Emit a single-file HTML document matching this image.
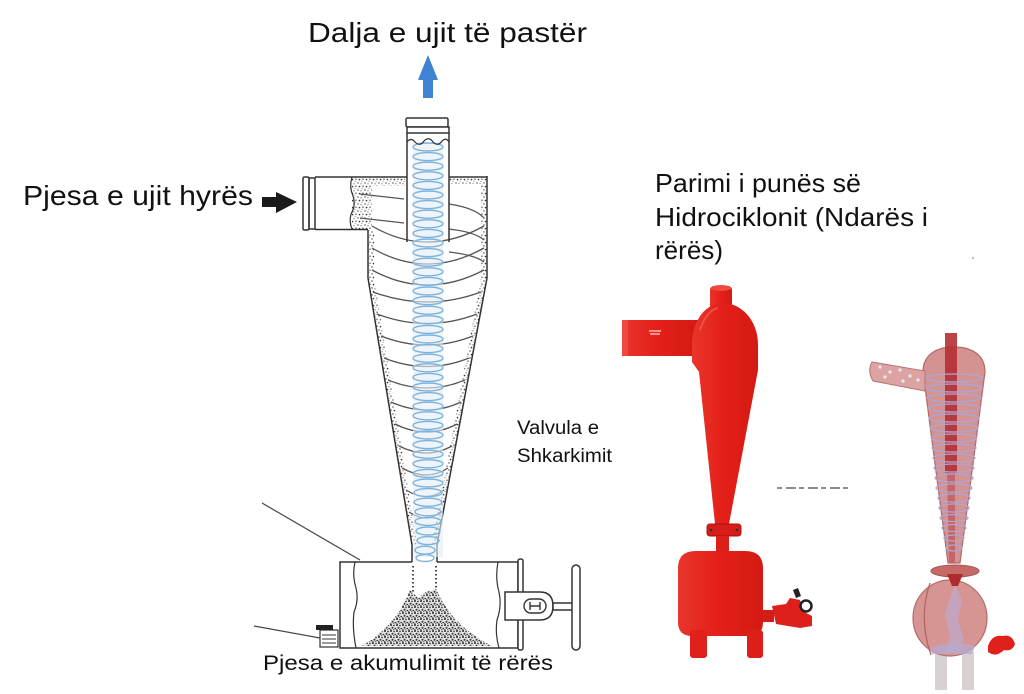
<!DOCTYPE html>
<html><head><meta charset="utf-8"><style>
html,body{margin:0;padding:0;background:#fff;}
svg{display:block;}
text{font-family:"Liberation Sans",Arial,sans-serif;fill:#111;}
</style></head><body>
<svg width="1024" height="694" viewBox="0 0 1024 694" xmlns="http://www.w3.org/2000/svg">
<defs>
<pattern id="dots" width="7" height="7" patternUnits="userSpaceOnUse">
<circle cx="1" cy="1" r="0.7" fill="#444"/><circle cx="4" cy="1.8" r="0.6" fill="#555"/>
<circle cx="6" cy="4.2" r="0.7" fill="#444"/><circle cx="2.5" cy="4.6" r="0.8" fill="#333"/>
<circle cx="5" cy="6.3" r="0.5" fill="#555"/>
</pattern>
<pattern id="sand" width="6" height="6" patternUnits="userSpaceOnUse">
<rect width="6" height="6" fill="#e6e6e6"/>
<circle cx="1" cy="1" r="1" fill="#222"/><circle cx="4" cy="1.5" r="0.9" fill="#444"/>
<circle cx="2.5" cy="3.8" r="1" fill="#333"/><circle cx="5.2" cy="4.5" r="0.8" fill="#222"/>
<circle cx="0.8" cy="5.4" r="0.7" fill="#555"/><circle cx="3.6" cy="5.8" r="0.6" fill="#333"/>
</pattern>
<linearGradient id="red" x1="0" x2="1" y1="0" y2="0">
<stop offset="0" stop-color="#e9362c"/><stop offset="0.45" stop-color="#e42019"/><stop offset="1" stop-color="#d41a14"/>
</linearGradient>
</defs>

<!-- Texts -->
<text x="308" y="42" font-size="28" textLength="279" lengthAdjust="spacingAndGlyphs">Dalja e ujit të pastër</text>
<text x="23" y="205" font-size="28" textLength="230" lengthAdjust="spacingAndGlyphs">Pjesa e ujit hyrës</text>
<text x="655" y="192" font-size="26" textLength="206" lengthAdjust="spacingAndGlyphs">Parimi i punës së</text>
<text x="655" y="226" font-size="26" textLength="273" lengthAdjust="spacingAndGlyphs">Hidrociklonit (Ndarës i</text>
<text x="655" y="259" font-size="26" textLength="68" lengthAdjust="spacingAndGlyphs">rërës)</text>
<text x="517" y="434" font-size="19" textLength="82" lengthAdjust="spacingAndGlyphs">Valvula e</text>
<text x="517" y="462" font-size="19" textLength="95" lengthAdjust="spacingAndGlyphs">Shkarkimit</text>
<text x="263" y="670" font-size="21" textLength="290" lengthAdjust="spacingAndGlyphs">Pjesa e akumulimit të rërës</text>

<!-- Blue outlet arrow -->
<path d="M428 55 L438 80 L433 80 L433 98 L423 98 L423 80 L418 80 Z" fill="#3f83d2"/>
<!-- Black inlet arrow -->
<path d="M262 197 L276 197 L276 192 L297 202 L276 213 L276 207 L262 207 Z" fill="#1a1a1a"/>

<!-- Left technical drawing -->
<g fill="none" stroke="#333" stroke-width="1.5">
<path d="M368 230 L368 278 L412 545 L417 545 L374 278 L374 230 Z" fill="url(#dots)" stroke="none"/>
<path d="M487 177 L487 278 L437 545 L432 545 L481 278 L481 177 Z" fill="url(#dots)" stroke="none"/>
<path d="M352 178 L372 178 L372 229 L352 229 Z" fill="url(#dots)" stroke="none"/>
<path d="M372 178 L405 178 L405 186 L372 186 Z" fill="url(#dots)" stroke="none"/>
<path d="M450 178 L481 178 L481 184 L450 184 Z" fill="url(#dots)" stroke="none"/>

<path d="M368 230 L368 278 L412 545 L412 562"/>
<path d="M487 176 L487 278 L437 545 L437 562"/>
<path d="M315 177 L407 177 M449 177 L487 177"/>
<rect x="303" y="177" width="6" height="53" rx="1.5"/>
<rect x="309" y="178" width="6" height="51"/>
<path d="M315 229.5 L368 229.5"/>
<path d="M352 177 Q349 187 353 196 Q356 206 351 214 Q349 222 352 229" stroke-width="1.2"/>
<path d="M360 194 L404 199 M360 218 L404 223" stroke="#555" stroke-width="1.3"/>

<g stroke="#555" stroke-width="1.3">
<path d="M449 204 Q475 208 484 218"/>
<path d="M372 226 Q427 258 484 226"/>
<path d="M449 229 Q475 232 484 240"/>
<path d="M372 248 Q427 280 484 248"/>
<path d="M449 252 Q475 255 484 262"/>
<path d="M372 270 Q427 300 484 270"/>
<path d="M373 292 Q427 312 481 292"/>
<path d="M377 314 Q427 333 477 314"/>
<path d="M381 336 Q427 354 473 336"/>
<path d="M384 358 Q427 375 469 358"/>
<path d="M388 380 Q427 396 465 380"/>
<path d="M391 402 Q427 418 461 402"/>
<path d="M395 424 Q427 440 457 424"/>
<path d="M399 446 Q427 460 452 446"/>
<path d="M402 468 Q427 482 448 468"/>
<path d="M406 490 Q427 503 444 490"/>
<path d="M409 512 Q427 524 440 512"/>
</g>

<rect x="413" y="142" width="30" height="415" fill="#e3eef7" stroke="none" opacity="0.6"/>
<g stroke="#7eb2d8" stroke-width="1.4" fill="none">
<ellipse cx="428" cy="147" rx="15" ry="4"/><ellipse cx="428" cy="156.6" rx="15" ry="4"/>
<ellipse cx="428" cy="166.2" rx="15" ry="4"/><ellipse cx="428" cy="175.8" rx="15" ry="4"/>
<ellipse cx="428" cy="185.4" rx="15" ry="4"/><ellipse cx="428" cy="195" rx="15" ry="4"/>
<ellipse cx="428" cy="204.6" rx="15" ry="4"/><ellipse cx="428" cy="214.2" rx="15" ry="4"/>
<ellipse cx="428" cy="223.8" rx="15" ry="4"/><ellipse cx="428" cy="233.4" rx="15" ry="4"/>
<ellipse cx="428" cy="243" rx="15" ry="4"/><ellipse cx="428" cy="252.6" rx="15" ry="4"/>
<ellipse cx="428" cy="262.2" rx="15" ry="4"/><ellipse cx="428" cy="271.8" rx="15" ry="4"/>
<ellipse cx="428" cy="281.4" rx="15" ry="4"/><ellipse cx="428" cy="291" rx="15" ry="4"/>
<ellipse cx="428" cy="300.6" rx="15" ry="4"/><ellipse cx="428" cy="310.2" rx="15" ry="4"/>
<ellipse cx="428" cy="319.8" rx="15" ry="4"/><ellipse cx="428" cy="329.4" rx="15" ry="4"/>
<ellipse cx="428" cy="339" rx="15" ry="4"/><ellipse cx="428" cy="348.6" rx="15" ry="4"/>
<ellipse cx="428" cy="358.2" rx="15" ry="4"/><ellipse cx="428" cy="367.8" rx="15" ry="4"/>
<ellipse cx="428" cy="377.4" rx="15" ry="4"/><ellipse cx="428" cy="387" rx="15" ry="4"/>
<ellipse cx="428" cy="396.6" rx="15" ry="4"/><ellipse cx="428" cy="406.2" rx="15" ry="4"/>
<ellipse cx="428" cy="415.8" rx="15" ry="4"/><ellipse cx="428" cy="425.4" rx="15" ry="4"/>
<ellipse cx="428" cy="435" rx="15" ry="4"/><ellipse cx="428" cy="444.6" rx="15" ry="4"/>
<ellipse cx="428" cy="454.2" rx="15" ry="4"/><ellipse cx="428" cy="463.8" rx="15" ry="4"/>
<ellipse cx="428" cy="473.4" rx="15" ry="4"/><ellipse cx="428" cy="483" rx="15" ry="4"/>
<ellipse cx="428" cy="492.6" rx="14" ry="4"/><ellipse cx="428" cy="502.2" rx="14" ry="4"/>
<ellipse cx="428" cy="511.8" rx="13" ry="4"/><ellipse cx="428" cy="521.4" rx="13" ry="4"/>
<ellipse cx="428" cy="531" rx="12" ry="4"/><ellipse cx="428" cy="540.6" rx="11" ry="4"/>
<ellipse cx="425" cy="550.2" rx="10" ry="4"/><ellipse cx="425" cy="558" rx="9" ry="3.5"/>
</g>

<path d="M407 133 L407 242 M449 133 L449 242"/>
<rect x="406" y="118" width="42" height="9" rx="1.5" fill="#fff"/>
<rect x="407" y="127" width="42" height="6" fill="#fff"/>
<path d="M407 142 Q411 137 415 142 Q420 147 424 141 Q429 136 433 142 Q438 147 442 141 Q446 137 449 142" stroke-width="1.2"/>

<!-- bottom chamber -->
<path d="M412 562 L340 562 L340 648 L518 648 L518 562 L437 562"/>
<path d="M355 562 Q352 575 356 588 Q359 600 354 612 Q352 628 356 648" stroke-width="1.2"/>
<path d="M498 562 Q495 578 499 592 Q502 606 497 620 Q495 634 499 648" stroke-width="1.2"/>
<rect x="518" y="559" width="5" height="91" rx="2" fill="#fff"/>
<path d="M362 646 Q396 626 410 590 L418 598 L426 592 L436 589 Q452 626 492 646 Z" fill="url(#sand)" stroke="none"/>
<path d="M413 566 L413 592 M436 566 L436 590" stroke="#444" stroke-width="2" stroke-dasharray="1.5 2.5"/>
<path d="M505 592 L540 592 Q553 592 553 606 Q553 620 540 620 L505 620 Z" fill="#fff"/>
<rect x="524" y="599" width="22" height="14" rx="7" stroke-width="1.4"/>
<path d="M530 602 L530 610 M540 602 L540 610 M530 606 L540 606" stroke-width="1.4"/>
<rect x="553" y="603" width="20" height="7" fill="#fff"/>
<rect x="572" y="565" width="8" height="85" rx="4" fill="#fff"/>
<rect x="320" y="630" width="18" height="17" fill="#fff" stroke-width="1.2"/>
<path d="M322 635 L336 635 M322 639 L336 639 M322 643 L336 643" stroke-width="1"/>
<rect x="316" y="625" width="17" height="5" fill="#222" stroke="none"/>
<path d="M262 503 L360 560 M254 626 L320 638" stroke="#444" stroke-width="1.2"/>
</g>

<!-- Red hydrocyclone -->
<g>
<rect x="710" y="286" width="22" height="26" rx="4" fill="url(#red)"/>
<ellipse cx="721" cy="288" rx="10" ry="3" fill="#ee4a40"/>
<rect x="622" y="320" width="76" height="36" fill="url(#red)"/>
<rect x="622" y="320" width="6" height="36" fill="#ee4840"/>
<path d="M649 331 L661 331 M650 334 L660 334" stroke="#fff" stroke-width="1.3" opacity="0.8"/>
<path d="M692 345 C692 320 706 303 723 303 C741 303 758 320 758 345 L758 370 L729 524 L715 524 L699 372 L692 362 Z" fill="url(#red)"/>
<path d="M700 330 C705 315 712 309 718 308" stroke="#f06a60" stroke-width="2" fill="none" opacity="0.6"/>
<rect x="707" y="524" width="34" height="12" rx="3" fill="#d61d17" stroke="#a8130f" stroke-width="1"/>
<circle cx="711" cy="530" r="1.4" fill="#333"/><circle cx="737" cy="530" r="1.4" fill="#333"/>
<rect x="716" y="536" width="13" height="17" fill="#dd1f19"/>
<path d="M678 568 Q678 551 696 551 L745 551 Q763 551 763 568 L763 622 Q763 636 749 636 L692 636 Q678 636 678 622 Z" fill="url(#red)"/>
<rect x="690" y="630" width="17" height="28" rx="3" fill="#e0201a"/>
<rect x="747" y="630" width="16" height="28" rx="3" fill="#dc1f19"/>
<rect x="762" y="610" width="12" height="12" fill="#d41d17"/>
<path d="M772 606 L786 604 L790 598 L800 600 L804 612 L812 616 L812 626 L800 628 L788 626 L776 624 Z" fill="#dd2019"/>
<path d="M793 590 L798 588 L801 596 L796 598 Z" fill="#222"/>
<circle cx="806" cy="606" r="5.5" fill="#fff" stroke="#222" stroke-width="2.5"/>
</g>
<path d="M777 488 L850 488" stroke="#666" stroke-width="1.6" stroke-dasharray="5 4 10 3"/>

<!-- Translucent hydrocyclone -->
<g>
<rect x="935" y="652" width="12" height="38" fill="#cfc6c6" opacity="0.8"/>
<rect x="962" y="652" width="12" height="38" fill="#cfc6c6" opacity="0.8"/>
<ellipse cx="950" cy="618" rx="37" ry="38" fill="#d69592" stroke="#b56a68" stroke-width="1.2"/>
<path d="M930 583 Q918 618 931 655" fill="none" stroke="#b06462" stroke-width="1.2"/>
<path d="M955 584 L962 600 L958 620 L964 640 L958 652 L946 652 L950 635 L945 615 L950 598 Z" fill="#c0a6c8" opacity="0.8"/>
<path d="M930 648 Q950 640 975 646 L972 654 L932 654 Z" fill="#b8a8cc" opacity="0.8"/>
<path d="M923 372 C923 355 936 347 954 347 C972 347 985 355 985 372 L960 563 L948 563 Z" fill="#d49390" stroke="#b56866" stroke-width="1.2"/>
<rect x="945" y="333" width="12" height="140" fill="#b53034" opacity="0.9"/>
<path d="M947 473 L955 473 L955 563 L949 563 Z" fill="#c25a5c" opacity="0.8"/>
<g stroke="#aea6d4" stroke-width="1.3" fill="none">
<ellipse cx="954" cy="378" rx="29" ry="4"/><ellipse cx="954" cy="388" rx="28" ry="4"/>
<ellipse cx="954" cy="398" rx="27" ry="4"/><ellipse cx="954" cy="408" rx="26" ry="4"/>
<ellipse cx="954" cy="418" rx="25" ry="4"/><ellipse cx="954" cy="428" rx="24" ry="4"/>
<ellipse cx="954" cy="438" rx="23" ry="4"/><ellipse cx="954" cy="448" rx="22" ry="4"/>
<ellipse cx="954" cy="458" rx="21" ry="4"/><ellipse cx="954" cy="468" rx="20" ry="4"/>
<ellipse cx="954" cy="478" rx="19" ry="4"/><ellipse cx="954" cy="488" rx="18" ry="4"/>
<ellipse cx="954" cy="498" rx="16" ry="4"/><ellipse cx="954" cy="508" rx="15" ry="4"/>
<ellipse cx="954" cy="518" rx="14" ry="3.5"/><ellipse cx="954" cy="528" rx="12" ry="3.5"/>
<ellipse cx="954" cy="538" rx="10" ry="3"/><ellipse cx="954" cy="548" rx="8" ry="3"/>
</g>
<path d="M872 362 L925 371 L925 391 L873 381 Q867 371 872 362 Z" fill="#dba3a2" stroke="#b87472" stroke-width="1"/>
<g fill="#efe6f0"><circle cx="880" cy="367" r="1.6"/><circle cx="890" cy="372" r="1.6"/><circle cx="900" cy="370" r="1.6"/><circle cx="910" cy="376" r="1.6"/><circle cx="918" cy="380" r="1.6"/><circle cx="885" cy="377" r="1.6"/><circle cx="903" cy="381" r="1.6"/></g>
<ellipse cx="955" cy="571" rx="24" ry="6" fill="#c66a68" stroke="#a85452" stroke-width="1"/>
<path d="M947 574 L963 574 L958 586 L952 586 Z" fill="#b02a2e"/>
<path d="M988 646 Q992 634 1003 636 Q1012 634 1015 644 Q1012 652 1004 650 Q996 658 988 652 Z" fill="#e1201c"/>
</g>
<circle cx="973" cy="258" r="1" fill="#aab"/>
</svg>
</body></html>
